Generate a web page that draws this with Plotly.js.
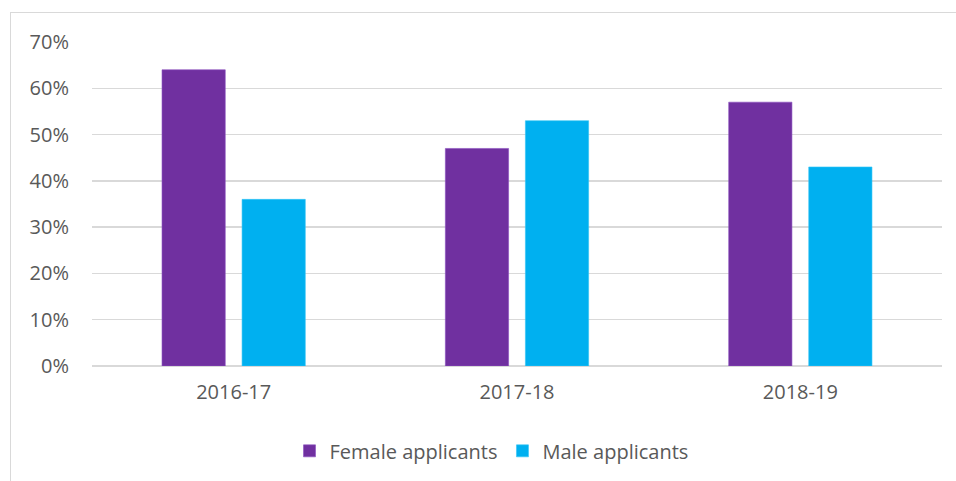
<!DOCTYPE html>
<html>
<head>
<meta charset="utf-8">
<script src="https://cdn.plot.ly/plotly-3.0.1.min.js"></script>
<style>
  html, body { margin: 0; padding: 0; background: #fff; }
  #frame { position: absolute; left: 10px; top: 12px; width: 960px; height: 480px;
           border: 1.5px solid #d9d9d9; box-sizing: border-box; }
  #chart { position: absolute; left: 0; top: 0; width: 956px; height: 481px; }
</style>
</head>
<body>
<div id="frame"></div>
<div id="chart"></div>
<script>
    var years = ['2016-17', '2017-18', '2018-19'];
    var female = [0.64, 0.47, 0.57];
    var male = [0.36, 0.53, 0.43];
    var tickVals = [0, 0.1, 0.2, 0.3, 0.4, 0.5, 0.6, 0.7];

    var femaleTrace = {
        x: years,
        y: female,
        name: 'Female applicants',
        type: 'bar',
        marker: { color: '#7030A0', line: { color: '#8a4fbf', width: 0.6 } },
        hoverinfo: 'skip'
    };
    var maleTrace = {
        x: years,
        y: male,
        name: 'Male applicants',
        type: 'bar',
        marker: { color: '#00B0F0', line: { color: '#33c4f5', width: 0.6 } },
        hoverinfo: 'skip'
    };

    var layout = {
        width: 956,
        height: 481,
        margin: { t: 42, r: 14, b: 114, l: 92 },
        barmode: 'group',
        bargap: 0.435,
        bargroupgap: 0.21,
        font: { family: '"Open Sans", "Liberation Sans", sans-serif', size: 20, color: '#595959' },
        xaxis: {
            showgrid: false,
            showline: false,
            ticks: '',
            ticklabelstandoff: 12
        },
        yaxis: {
            range: [0, 0.7],
            tickvals: tickVals,
            tickformat: '.0%',
            showgrid: true,
            gridcolor: '#d9d9d9',
            gridwidth: 1.3,
            zeroline: true,
            zerolinecolor: '#d9d9d9',
            zerolinewidth: 1.3,
            showline: false,
            ticks: '',
            ticklabelstandoff: 22
        },
        legend: {
            orientation: 'h',
            x: 0.47,
            xanchor: 'center',
            y: -0.258,
            yanchor: 'middle',
            font: { size: 20, color: '#595959' },
            itemwidth: 30,
            tracegroupgap: 0
        },
        showlegend: true,
        paper_bgcolor: 'rgba(0,0,0,0)',
        plot_bgcolor: 'rgba(0,0,0,0)'
    };

    Plotly.newPlot('chart', [femaleTrace, maleTrace], layout, { displayModeBar: false, staticPlot: true });
</script>
</body>
</html>
